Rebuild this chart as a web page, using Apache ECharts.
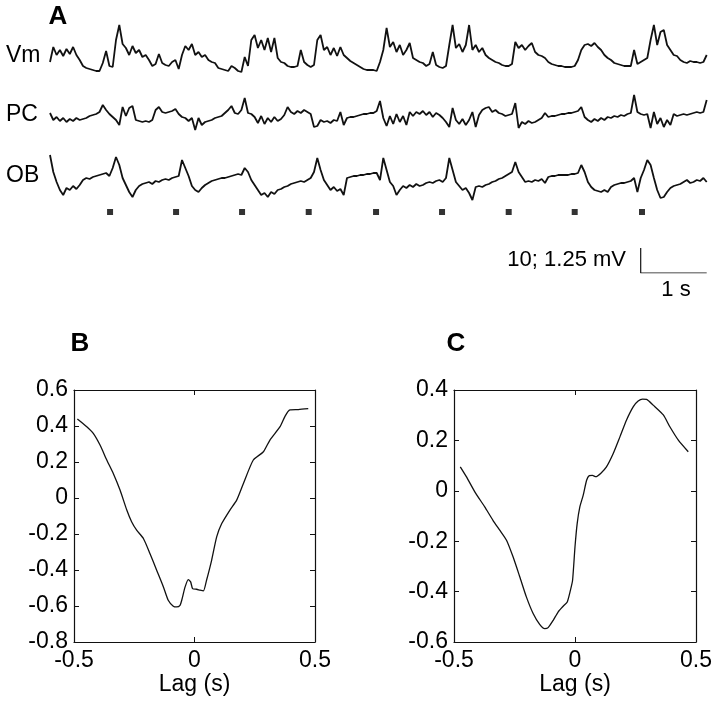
<!DOCTYPE html>
<html><head><meta charset="utf-8">
<script src="https://cdn.jsdelivr.net/npm/echarts@6/dist/echarts.min.js"></script>
<style>html,body{margin:0;padding:0;background:#fff}#c{width:720px;height:701px}</style>
</head><body><div id="c"></div>
<script>
// ---- Panel A: traces sampled every 0.05 s (arbitrary amplitude units) ----
const sampleStep = 0.05;
const vmTrace = [
 10,25,17,22,16,23,18,25,17,12,
 6,4,3,2,1,1,9,21,6,5,
 32,47,28,24,17,26,19,22,15,17,
 12,6,8,18,9,7,6,10,12,3,
 17,26,22,28,17,20,15,17,12,10,
 9,4,3,2,1,6,4,1,0,15,
 6,32,37,24,32,22,34,20,34,14,
 10,9,6,5,5,6,22,10,7,5,
 7,32,37,22,25,17,24,16,25,17,
 14,11,9,7,5,3,2,2,2,1,
 10,22,44,25,30,20,27,17,22,29,
 14,12,10,9,6,8,20,7,5,4,
 6,27,47,24,28,20,27,47,22,27,
 20,24,17,14,12,10,9,7,6,6,
 8,30,24,27,22,26,29,20,17,16,
 14,10,8,7,6,6,5,5,5,6,
 12,22,27,28,26,29,25,22,17,14,
 12,9,8,7,6,6,6,22,8,10,
 12,14,32,47,27,40,42,27,22,17,
 16,12,10,9,11,10,10,9,10,17
];
const pcTrace = [
 17,10,13,9,12,8,11,9,12,10,
 11,12,14,15,16,18,25,20,16,13,
 10,5,23,14,22,24,10,9,8,9,
 8,10,20,23,18,17,18,19,21,16,
 13,12,9,12,0,12,5,8,9,10,
 12,13,14,17,20,24,17,16,20,32,
 17,16,13,7,14,6,12,8,13,9,
 11,15,23,18,16,19,17,20,18,16,
 3,4,10,8,9,7,10,9,18,5,
 12,13,13,14,15,16,16,17,17,19,
 29,12,4,14,6,16,8,14,5,18,
 14,18,16,19,15,18,13,17,15,12,
 8,3,22,10,6,11,5,10,18,3,
 15,20,22,23,18,20,17,16,14,15,
 16,27,2,8,6,9,7,8,10,12,
 17,13,14,14,15,16,16,17,17,18,
 19,23,13,10,8,11,9,12,10,13,
 12,14,13,15,14,16,17,35,18,16,
 15,16,2,18,6,12,3,10,5,16,
 14,15,16,15,16,17,18,17,18,30
];
const obTrace = [
 45,28,18,10,5,12,10,14,11,15,
 20,22,21,23,24,25,26,27,24,32,
 43,35,22,15,8,3,10,14,16,17,
 18,16,19,18,20,21,20,22,23,24,
 40,32,24,14,10,8,12,15,17,19,
 20,21,22,22,23,24,25,26,25,32,
 28,20,15,10,5,7,3,8,6,10,
 11,13,14,16,17,18,19,18,20,22,
 28,42,30,20,15,10,13,9,11,5,
 22,23,24,24,25,25,26,26,27,27,
 20,42,30,18,14,5,10,14,12,15,
 13,16,14,15,17,18,17,19,20,18,
 22,42,30,18,14,10,12,7,0,13,
 14,13,15,16,18,19,21,22,24,26,
 28,38,28,23,18,19,18,20,19,21,
 17,23,24,24,25,25,25,25,26,26,
 27,35,28,18,13,10,9,8,10,8,
 13,15,16,17,17,18,19,22,8,22,
 30,40,35,22,10,2,3,8,12,14,
 15,16,18,20,17,18,20,19,22,18
];
const stimTimes = [0.91, 1.91, 2.91, 3.92, 4.94, 5.94, 6.95, 7.95, 8.97];
const scaleBarTimes = [8.95, 9.95];   // 1 s
const scaleBarHeight = 10;            // 10 mV

// ---- Panel B ----
const lagB = [-0.486,-0.447,-0.42,-0.392,-0.364,-0.337,-0.309,-0.281,-0.261,-0.24,-0.212,-0.185,-0.157,-0.129,-0.109,-0.088,-0.074,-0.06,-0.053,-0.039,-0.026,-0.016,-0.008,0.009,0.023,0.037,0.05,0.071,0.092,0.113,0.147,0.175,0.203,0.244,0.286,0.313,0.355,0.376,0.396,0.431,0.472];
const corrB = [0.439,0.396,0.359,0.294,0.211,0.136,0.044,-0.067,-0.132,-0.179,-0.225,-0.308,-0.401,-0.494,-0.568,-0.601,-0.605,-0.596,-0.568,-0.494,-0.453,-0.466,-0.503,-0.507,-0.512,-0.516,-0.457,-0.346,-0.216,-0.142,-0.067,-0.012,0.081,0.211,0.257,0.322,0.396,0.455,0.489,0.491,0.496];
const ticksB = {min:-0.8, max:0.6, step:0.2};

// ---- Panel C ----
const lagC = [-0.474,-0.449,-0.414,-0.373,-0.339,-0.311,-0.283,-0.256,-0.228,-0.201,-0.173,-0.146,-0.125,-0.111,-0.09,-0.07,-0.049,-0.032,-0.019,-0.01,0.0,0.009,0.02,0.034,0.048,0.059,0.072,0.086,0.106,0.13,0.158,0.186,0.213,0.241,0.261,0.279,0.296,0.323,0.365,0.392,0.427,0.468];
const corrC = [0.095,0.056,-0.004,-0.064,-0.117,-0.156,-0.196,-0.262,-0.342,-0.421,-0.487,-0.53,-0.547,-0.543,-0.514,-0.481,-0.458,-0.441,-0.395,-0.355,-0.222,-0.13,-0.064,-0.017,0.042,0.06,0.061,0.056,0.069,0.095,0.148,0.215,0.281,0.334,0.356,0.364,0.363,0.34,0.301,0.254,0.201,0.155];
const ticksC = {min:-0.6, max:0.4, step:0.2};
const lagTicks = {min:-0.5, max:0.5, step:0.5};

// ---------------------------------------------------------------
const FONT = '"Liberation Sans", Arial, Helvetica, sans-serif';
const INK = '#111';
const toPairs = arr => arr.map((v, i) => [+(i * sampleStep).toFixed(2), v]);
const zip = (a, b) => a.map((x, i) => [x, b[i]]);

const traceGrids = [
  {left:50, top:25,  width:660, height:47},
  {left:50, top:95,  width:660, height:35},
  {left:50, top:150, width:660, height:50},
  {left:50, top:207, width:660, height:10},
  {left:50, top:248, width:660, height:25}
];
const yRanges = [[0,47],[0,35],[0,50],[0,1],[0,scaleBarHeight]];

const grids = traceGrids.concat([
  {left:74,  top:390, width:241, height:252},
  {left:454, top:390, width:242, height:252}
]);

const xAxes = [], yAxes = [];
traceGrids.forEach((g, i) => {
  xAxes.push({gridIndex:i, type:'value', min:0, max:10, show:false});
  yAxes.push({gridIndex:i, type:'value', min:yRanges[i][0], max:yRanges[i][1], show:false});
});

function boxAxes(gi, yt) {
  const line = {show:true, onZero:false, lineStyle:{color:INK, width:1.2}};
  const tick = {show:true, inside:true, length:5, lineStyle:{color:INK, width:1}};
  const lab = {fontFamily:FONT, fontSize:23, color:'#000'};
  xAxes.push({gridIndex:gi, type:'value', position:'bottom', min:lagTicks.min, max:lagTicks.max, interval:lagTicks.step,
    axisLine:line, axisTick:tick, splitLine:{show:false},
    axisLabel:Object.assign({margin:7}, lab),
    name:'Lag (s)', nameLocation:'middle', nameGap:26, nameTextStyle:Object.assign({verticalAlign:'top'}, lab)});
  xAxes.push({gridIndex:gi, type:'value', position:'top', min:lagTicks.min, max:lagTicks.max, interval:lagTicks.step,
    axisLine:line, axisTick:tick, splitLine:{show:false}, axisLabel:{show:false}});
  yAxes.push({gridIndex:gi, type:'value', position:'left', min:yt.min, max:yt.max, interval:yt.step,
    axisLine:line, axisTick:tick, splitLine:{show:false},
    axisLabel:Object.assign({margin:6}, lab)});
  yAxes.push({gridIndex:gi, type:'value', position:'right', min:yt.min, max:yt.max, interval:yt.step,
    axisLine:line, axisTick:tick, splitLine:{show:false}, axisLabel:{show:false}});
}
boxAxes(5, ticksB); // x idx 5,6 ; y idx 5,6
boxAxes(6, ticksC); // x idx 7,8 ; y idx 7,8

const traceLine = {color:INK, width:1.8};
const series = [
  {type:'line', xAxisIndex:0, yAxisIndex:0, data:toPairs(vmTrace), showSymbol:false, lineStyle:traceLine},
  {type:'line', xAxisIndex:1, yAxisIndex:1, data:toPairs(pcTrace), showSymbol:false, lineStyle:traceLine},
  {type:'line', xAxisIndex:2, yAxisIndex:2, data:toPairs(obTrace), showSymbol:false, lineStyle:traceLine},
  {type:'scatter', xAxisIndex:3, yAxisIndex:3, data:stimTimes.map(t => [t, 0.5]), symbol:'rect', symbolSize:6, itemStyle:{color:'#000'}},
  {type:'line', xAxisIndex:4, yAxisIndex:4, showSymbol:false, lineStyle:{color:INK, width:1.2},
    data:[[scaleBarTimes[0], scaleBarHeight],[scaleBarTimes[0], 0],[scaleBarTimes[1], 0]]},
  {type:'line', xAxisIndex:5, yAxisIndex:5, data:zip(lagB, corrB), showSymbol:false, smooth:0.2, lineStyle:{color:INK, width:1.3}},
  {type:'line', xAxisIndex:7, yAxisIndex:7, data:zip(lagC, corrC), showSymbol:false, smooth:0.2, lineStyle:{color:INK, width:1.3}}
];

function txt(x, y, s, size, opts) {
  return {type:'text', x:x, y:y, style:Object.assign({text:s, fontFamily:FONT, fontSize:size, fill:'#000',
    textAlign:'left', textVerticalAlign:'middle'}, opts || {})};
}
const graphics = [
  txt(58, 17, 'A', 26, {fontWeight:'bold', textAlign:'center'}),
  txt(6, 56, 'Vm', 23),
  txt(6, 115, 'PC', 23),
  txt(6, 176, 'OB', 23),
  txt(626, 260, '10; 1.25 mV', 22, {textAlign:'right'}),
  txt(676, 290, '1 s', 22, {textAlign:'center'}),
  txt(80, 344, 'B', 26, {fontWeight:'bold', textAlign:'center'}),
  txt(456, 344, 'C', 26, {fontWeight:'bold', textAlign:'center'})
];

const chart = echarts.init(document.getElementById('c'), null, {renderer:'canvas'});
chart.setOption({
  animation:false,
  backgroundColor:'#fff',
  grid:grids,
  xAxis:xAxes,
  yAxis:yAxes,
  series:series,
  graphic:graphics
});
</script></body></html>
